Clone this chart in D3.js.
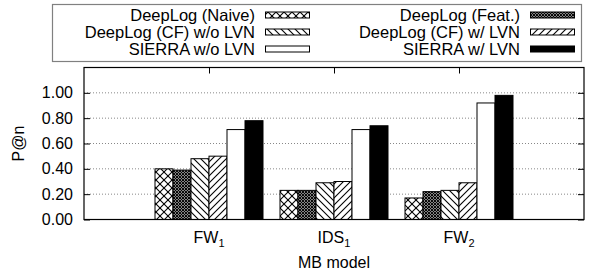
<!DOCTYPE html>
<html><head><meta charset="utf-8">
<script src="https://cdn.jsdelivr.net/npm/d3@7"></script>
<style>body{margin:0;background:#fff}svg{display:block}text{font-family:"Liberation Sans",Arial,sans-serif;fill:#000}</style>
</head><body><svg id="c" width="589" height="274"></svg>
<script>
const categories = ["FW", "IDS", "FW"];
const categorySubs = ["1", "1", "2"];
const seriesNames = ["DeepLog (Naive)", "DeepLog (Feat.)", "DeepLog (CF) w/o LVN", "DeepLog (CF) w/ LVN", "SIERRA w/o LVN", "SIERRA w/ LVN"];
const naive = [0.40, 0.23, 0.17];
const feat = [0.39, 0.23, 0.22];
const cfWo = [0.48, 0.29, 0.23];
const cfW = [0.50, 0.30, 0.29];
const sierraWo = [0.71, 0.71, 0.92];
const sierraW = [0.78, 0.74, 0.98];
const yTicks = [0, 0.2, 0.4, 0.6, 0.8, 1.0];
const seriesValues = [naive, feat, cfWo, cfW, sierraWo, sierraW];
const fills = ["url(#pNaive)", "url(#pFeat)", "url(#pCfWo)", "url(#pCfW)", "#fff", "#000"];

const svg = d3.select("#c");
const L = 84, R = 584, T = 67.5, B = 219.5;
const x = d3.scaleLinear().domain([0, 4]).range([L, R]);
const y = d3.scaleLinear().domain([0, 1.2]).range([B, T]);
const sub = d3.scaleBand().domain(d3.range(6)).range([-0.432, 0.432]);

// patterns
const defs = svg.append("defs");
function pat(id, size, paths) {
  const p = defs.append("pattern").attr("id", id).attr("patternUnits", "userSpaceOnUse")
    .attr("width", size).attr("height", size);
  p.append("rect").attr("width", size).attr("height", size).attr("fill", "#fff");
  paths.forEach(d => p.append("path").attr("d", d).attr("stroke", "#000").attr("stroke-width", 1.1).attr("fill", "none"));
}
pat("pNaive", 8, ["M0,0L8,8", "M8,0L0,8", "M-1,7L1,9", "M7,-1L9,1", "M-1,1L1,-1", "M7,9L9,7"]);
pat("pFeat", 3, ["M0,0L3,3", "M3,0L0,3"]);
pat("pCfWo", 7, ["M0,0L7,7", "M-1,6L1,8", "M6,-1L8,1"]);
pat("pCfW", 7, ["M0,7L7,0", "M-1,1L1,-1", "M6,8L8,6"]);

// gridlines
svg.append("g").selectAll("line").data(yTicks.filter(v => v > 0)).join("line")
  .attr("x1", L).attr("x2", R).attr("y1", d => y(d)).attr("y2", d => y(d))
  .attr("stroke", "#888").attr("stroke-width", 1).attr("stroke-dasharray", "1,2");

// bars
const g = svg.append("g");
seriesValues.forEach((vals, s) => {
  g.selectAll(null).data(vals).join("rect")
    .attr("x", (d, i) => x(i + 1 + sub(s)))
    .attr("width", x(sub.bandwidth()) - x(0))
    .attr("y", d => y(d))
    .attr("height", d => y(0) - y(d))
    .attr("fill", fills[s]).attr("stroke", "#000").attr("stroke-width", 1);
});

// axes
const yAxis = d3.axisLeft(y).tickValues(yTicks).tickSize(-6).tickPadding(11).tickFormat(d3.format(".2f"));
const ya = svg.append("g").attr("transform", `translate(${L},0)`).call(yAxis);
ya.select(".domain").remove();
ya.selectAll("text").style("font-size", "16px").attr("font-family", null);
const yr = svg.append("g").attr("transform", `translate(${R},0)`).call(d3.axisRight(y).tickValues(yTicks).tickSize(-6).tickFormat(""));
yr.select(".domain").remove();
const xt = svg.append("g").attr("transform", `translate(0,${T})`).call(d3.axisTop(x).tickValues([1, 2, 3]).tickSize(-6).tickFormat(""));
xt.select(".domain").remove();
svg.selectAll(".tick line").attr("stroke", "#000");

svg.append("rect").attr("x", L).attr("y", T).attr("width", R - L).attr("height", B - T)
  .attr("fill", "none").attr("stroke", "#000").attr("stroke-width", 1.2);

// x tick labels
categories.forEach((c, i) => {
  const t = svg.append("text").attr("x", x(i + 1)).attr("y", 243).attr("text-anchor", "middle").style("font-size", "16px");
  t.append("tspan").text(c);
  t.append("tspan").attr("dy", 4).style("font-size", "11px").text(categorySubs[i]);
});
svg.append("text").attr("x", (L + R) / 2).attr("y", 268).attr("text-anchor", "middle").style("font-size", "16px").text("MB model");
svg.append("text").attr("transform", `translate(24,${(T + B) / 2}) rotate(-90)`).attr("text-anchor", "middle").style("font-size", "16px").text("P@n");

// legend
svg.append("rect").attr("x", 52.5).attr("y", 4.5).attr("width", 529).attr("height", 57).attr("fill", "#fff").attr("stroke", "#808080").attr("stroke-width", 1.2);
const colText = [255, 520], colSw = [265, 530];
seriesNames.forEach((n, s) => {
  const col = s % 2, row = Math.floor(s / 2);
  const cy = 15 + row * 17;
  svg.append("text").attr("x", colText[col]).attr("y", cy + 5.5).attr("text-anchor", "end").style("font-size", "16.5px").text(n);
  svg.append("rect").attr("x", colSw[col] + 0.5).attr("y", cy - 3).attr("width", 44).attr("height", 6)
    .attr("fill", fills[s]).attr("stroke", "#000").attr("stroke-width", 1);
});
</script></body></html>
